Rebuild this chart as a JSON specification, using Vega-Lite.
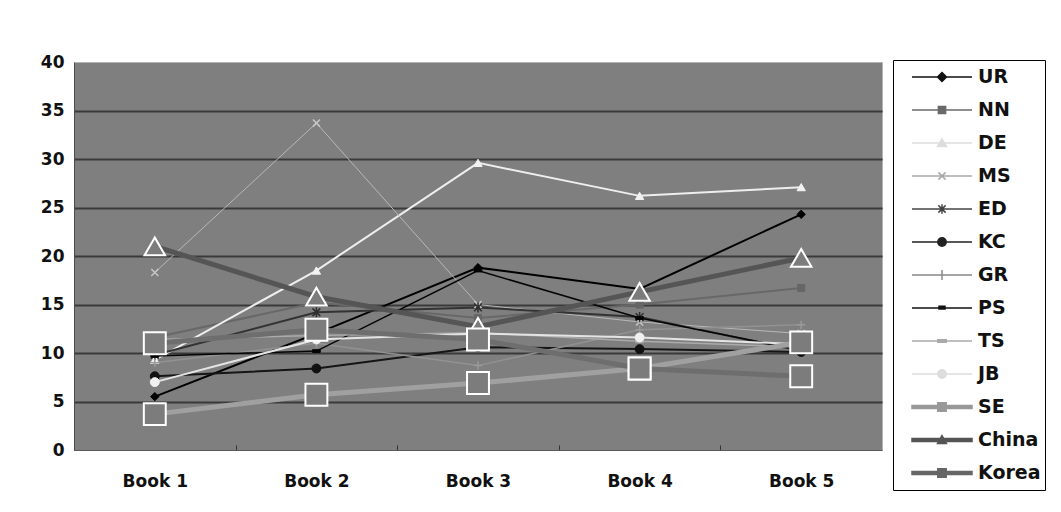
{
  "$schema": "https://vega.github.io/schema/vega-lite/v6.json",
  "width": 808,
  "height": 388,
  "autosize": {"type": "none"},
  "padding": {"left": 74, "top": 62, "right": 179, "bottom": 62},
  "background": "#ffffff",
  "config": {
    "font": "DejaVu Sans",
    "view": {"fill": "#7f7f7f", "stroke": "#b4b4b4", "strokeWidth": 1}
  },
  "data": {
    "values": [
      {"s": "UR", "b": "Book 1", "v": 5.5}, {"s": "UR", "b": "Book 2", "v": 12.0}, {"s": "UR", "b": "Book 3", "v": 18.8}, {"s": "UR", "b": "Book 4", "v": 16.6}, {"s": "UR", "b": "Book 5", "v": 24.3},
      {"s": "NN", "b": "Book 1", "v": 11.6}, {"s": "NN", "b": "Book 2", "v": 15.2}, {"s": "NN", "b": "Book 3", "v": 13.6}, {"s": "NN", "b": "Book 4", "v": 15.0}, {"s": "NN", "b": "Book 5", "v": 16.7},
      {"s": "DE", "b": "Book 1", "v": 9.3}, {"s": "DE", "b": "Book 2", "v": 18.5}, {"s": "DE", "b": "Book 3", "v": 29.6}, {"s": "DE", "b": "Book 4", "v": 26.2}, {"s": "DE", "b": "Book 5", "v": 27.1},
      {"s": "MS", "b": "Book 1", "v": 18.3}, {"s": "MS", "b": "Book 2", "v": 33.7}, {"s": "MS", "b": "Book 3", "v": 15.0}, {"s": "MS", "b": "Book 4", "v": 13.2}, {"s": "MS", "b": "Book 5", "v": 12.0},
      {"s": "ED", "b": "Book 1", "v": 9.8}, {"s": "ED", "b": "Book 2", "v": 14.2}, {"s": "ED", "b": "Book 3", "v": 14.7}, {"s": "ED", "b": "Book 4", "v": 13.7}, {"s": "ED", "b": "Book 5", "v": 10.2},
      {"s": "KC", "b": "Book 1", "v": 7.6}, {"s": "KC", "b": "Book 2", "v": 8.4}, {"s": "KC", "b": "Book 3", "v": 10.6}, {"s": "KC", "b": "Book 4", "v": 10.4}, {"s": "KC", "b": "Book 5", "v": 10.1},
      {"s": "GR", "b": "Book 1", "v": 9.0}, {"s": "GR", "b": "Book 2", "v": 11.0}, {"s": "GR", "b": "Book 3", "v": 8.7}, {"s": "GR", "b": "Book 4", "v": 12.4}, {"s": "GR", "b": "Book 5", "v": 12.9},
      {"s": "PS", "b": "Book 1", "v": 9.7}, {"s": "PS", "b": "Book 2", "v": 10.2}, {"s": "PS", "b": "Book 3", "v": 18.5}, {"s": "PS", "b": "Book 4", "v": 13.6}, {"s": "PS", "b": "Book 5", "v": 10.3},
      {"s": "TS", "b": "Book 1", "v": 11.4}, {"s": "TS", "b": "Book 2", "v": 11.8}, {"s": "TS", "b": "Book 3", "v": 12.1}, {"s": "TS", "b": "Book 4", "v": 11.2}, {"s": "TS", "b": "Book 5", "v": 10.6},
      {"s": "JB", "b": "Book 1", "v": 7.0}, {"s": "JB", "b": "Book 2", "v": 11.4}, {"s": "JB", "b": "Book 3", "v": 12.0}, {"s": "JB", "b": "Book 4", "v": 11.6}, {"s": "JB", "b": "Book 5", "v": 10.9},
      {"s": "SE", "b": "Book 1", "v": 3.7}, {"s": "SE", "b": "Book 2", "v": 5.7}, {"s": "SE", "b": "Book 3", "v": 6.9}, {"s": "SE", "b": "Book 4", "v": 8.4}, {"s": "SE", "b": "Book 5", "v": 11.1},
      {"s": "China", "b": "Book 1", "v": 21.0}, {"s": "China", "b": "Book 2", "v": 15.8}, {"s": "China", "b": "Book 3", "v": 12.7}, {"s": "China", "b": "Book 4", "v": 16.3}, {"s": "China", "b": "Book 5", "v": 19.8},
      {"s": "Korea", "b": "Book 1", "v": 11.0}, {"s": "Korea", "b": "Book 2", "v": 12.4}, {"s": "Korea", "b": "Book 3", "v": 11.4}, {"s": "Korea", "b": "Book 4", "v": 8.4}, {"s": "Korea", "b": "Book 5", "v": 7.6}
    ]
  },
  "encoding": {
    "x": {
      "field": "b", "type": "nominal", "sort": null,
      "scale": {"type": "point", "padding": 0.5},
      "axis": {
        "title": null, "labelAngle": 0, "labelFontSize": 17, "labelFontWeight": "bold", "labelColor": "#111111",
        "labelPadding": 28, "tickOffset": -80.8, "labelOffset": 80.8,
        "tickSize": -5, "tickColor": "#333333", "domainColor": "#5a5a5a", "grid": false
      }
    },
    "y": {
      "field": "v", "type": "quantitative",
      "scale": {"domain": [0, 40], "nice": false},
      "axis": {
        "title": null, "values": [0, 5, 10, 15, 20, 25, 30, 35, 40],
        "labelFontSize": 17, "labelFontWeight": "bold", "labelColor": "#111111", "labelPadding": 10,
        "ticks": false, "domainColor": "#4a4a4a",
        "grid": true, "gridWidth": 2,
        "gridColor": {"condition": {"test": "datum.value === 40 || datum.value === 0", "value": "transparent"}, "value": "#3a3a3a"}
      }
    }
  },
  "layer": [
    {
      "mark": {"type": "line"},
      "encoding": {
        "stroke": {
          "field": "s", "type": "nominal", "legend": null,
          "scale": {
            "domain": ["SE", "China", "Korea", "UR", "NN", "DE", "MS", "ED", "KC", "GR", "PS", "TS", "JB"],
            "range": ["#a0a0a0", "#555555", "#6e6e6e", "#000000", "#686868", "#eeeeee", "#b8b8b8", "#333333", "#151515", "#929292", "#050505", "#ababab", "#e4e4e4"]
          }
        },
        "strokeWidth": {
          "field": "s", "type": "nominal", "legend": null,
          "scale": {
            "type": "ordinal",
            "domain": ["SE", "China", "Korea", "UR", "NN", "DE", "MS", "ED", "KC", "GR", "PS", "TS", "JB"],
            "range": [5, 5, 5, 2, 2, 2, 1, 2, 2, 1.5, 1.5, 1.5, 2]
          }
        }
      }
    },
    {
      "mark": {"type": "point", "filled": true, "opacity": 1},
      "encoding": {
        "shape": {
          "field": "s", "type": "nominal", "legend": null,
          "scale": {
            "domain": ["UR", "NN", "DE", "MS", "ED", "KC", "GR", "PS", "TS", "JB", "SE", "China", "Korea"],
            "range": ["diamond", "square", "triangle-up", "M-1,-1L1,1M-1,1L1,-1", "M-1,-1L1,1M-1,1L1,-1M0,-1.3L0,1.3", "circle", "M-1,0L1,0M0,-1L0,1", "M-1,-0.35H1V0.35H-1Z", "M-1,-0.35H1V0.35H-1Z", "circle", "square", "triangle-up", "square"]
          }
        },
        "size": {
          "field": "s", "type": "nominal", "legend": null,
          "scale": {
            "type": "ordinal",
            "domain": ["UR", "NN", "DE", "MS", "ED", "KC", "GR", "PS", "TS", "JB", "SE", "China", "Korea"],
            "range": [70, 50, 70, 50, 60, 80, 70, 60, 60, 80, 480, 420, 480]
          }
        },
        "fill": {
          "field": "s", "type": "nominal", "legend": null,
          "scale": {
            "domain": ["UR", "NN", "DE", "MS", "ED", "KC", "GR", "PS", "TS", "JB", "SE", "China", "Korea"],
            "range": ["#000000", "#666666", "#f2f2f2", "transparent", "transparent", "#111111", "transparent", "#000000", "#aaaaaa", "#f0f0f0", "#7c7c7c", "#7c7c7c", "#7c7c7c"]
          }
        },
        "stroke": {
          "field": "s", "type": "nominal", "legend": null,
          "scale": {
            "domain": ["UR", "NN", "DE", "MS", "ED", "KC", "GR", "PS", "TS", "JB", "SE", "China", "Korea"],
            "range": ["#000000", "#666666", "#f2f2f2", "#c8c8c8", "#2e2e2e", "#111111", "#9a9a9a", "#000000", "#aaaaaa", "#f0f0f0", "#ffffff", "#ffffff", "#ffffff"]
          }
        },
        "strokeWidth": {
          "field": "s", "type": "nominal", "legend": null,
          "scale": {
            "type": "ordinal",
            "domain": ["UR", "NN", "DE", "MS", "ED", "KC", "GR", "PS", "TS", "JB", "SE", "China", "Korea"],
            "range": [1, 1, 1, 1.5, 1.5, 1, 1.5, 1, 1, 1, 2, 2, 2]
          }
        }
      }
    },
    {
      "mark": {"type": "point", "filled": true, "opacity": 0},
      "encoding": {
        "shape": {
          "field": "s", "type": "nominal",
          "scale": {
            "domain": ["UR", "NN", "DE", "MS", "ED", "KC", "GR", "PS", "TS", "JB", "SE", "China", "Korea"],
            "range": [
              "M-1,0H1M0,-0.15L0.15,0L0,0.15L-0.15,0Z",
              "M-1,0H1M-0.12,-0.12H0.12V0.12H-0.12Z",
              "M-1,0H1M0,-0.14L0.15,0.12H-0.15Z",
              "M-1,0H1M-0.12,-0.12L0.12,0.12M-0.12,0.12L0.12,-0.12",
              "M-1,0H1M-0.12,-0.12L0.12,0.12M-0.12,0.12L0.12,-0.12M0,-0.16V0.16",
              "M-1,0H1M-0.14,0A0.14,0.14 0 1,0 0.14,0A0.14,0.14 0 1,0 -0.14,0Z",
              "M-1,0H1M0,-0.17V0.17",
              "M-1,0H1M-0.1,-0.06H0.1V0.03H-0.1Z",
              "M-1,0H1M-0.14,-0.04H0.14V0.04H-0.14Z",
              "M-1,0H1M-0.14,0A0.14,0.14 0 1,0 0.14,0A0.14,0.14 0 1,0 -0.14,0Z",
              "M-1,-0.05H1V0.05H-1ZM-0.14,-0.14H0.14V0.14H-0.14Z",
              "M-1,-0.05H1V0.05H-1ZM0,-0.15L0.15,0.12H-0.15Z",
              "M-1,-0.05H1V0.05H-1ZM-0.14,-0.14H0.14V0.14H-0.14Z"
            ]
          },
          "legend": {
            "title": null, "orient": "none", "legendX": 819, "legendY": -2,
            "symbolSize": 3600, "symbolOpacity": 1, "symbolStrokeWidth": 1.5,
            "labelFontSize": 19, "labelFontWeight": "bold", "labelColor": "#111111", "labelOffset": 5,
            "clipHeight": 26, "rowPadding": 7, "padding": 4, "symbolOffset": 14,
            "fillColor": "#ffffff", "strokeColor": "#000000"
          }
        },
        "fill": {
          "field": "s", "type": "nominal",
          "scale": {
            "domain": ["UR", "NN", "DE", "MS", "ED", "KC", "GR", "PS", "TS", "JB", "SE", "China", "Korea"],
            "range": ["#111111", "#6a6a6a", "#dddddd", "#aaaaaa", "#444444", "#222222", "#888888", "#111111", "#aaaaaa", "#dddddd", "#999999", "#555555", "#666666"]
          }
        },
        "stroke": {
          "field": "s", "type": "nominal",
          "scale": {
            "domain": ["UR", "NN", "DE", "MS", "ED", "KC", "GR", "PS", "TS", "JB", "SE", "China", "Korea"],
            "range": ["#111111", "#6a6a6a", "#dddddd", "#aaaaaa", "#444444", "#222222", "#888888", "#111111", "#aaaaaa", "#dddddd", "#999999", "#555555", "#666666"]
          }
        }
      }
    }
  ],
  "resolve": {
    "scale": {"shape": "independent", "fill": "independent", "stroke": "independent", "strokeWidth": "independent", "size": "independent"},
    "legend": {"shape": "independent", "fill": "independent", "stroke": "independent"}
  }
}
